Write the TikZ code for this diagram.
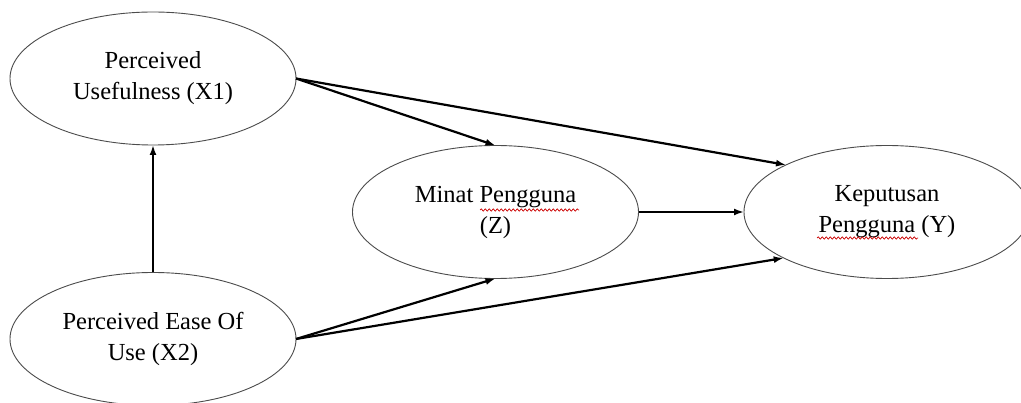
\documentclass[tikz,border=0pt]{standalone}
\usepackage{fontspec}
\setmainfont{Liberation Serif}
\usetikzlibrary{shapes.geometric, arrows.meta, decorations.pathmorphing}
\tikzstyle{var} = [ellipse, draw = black!70, line width = 0.9pt, inner sep = 0pt, outer sep = 0pt, minimum width = 286pt, minimum height = 133pt, align = center, font = \fontsize{24.5}{31}\selectfont]
\tikzstyle{path} = [-{Latex[length = 10pt, width = 7pt]}, line width = 2.2pt]
\tikzstyle{typo} = [red!80!black, line width = 0.7pt, decorate, decoration = {snake, amplitude = 1.2pt, segment length = 4pt}]

\begin{document}
\begin{tikzpicture}[x = 1pt, y = -1pt]
        \useasboundingbox (0, 0) rectangle (1021, 403);
        \fill [white] (0, 0) rectangle (1021, 403);

        \node (X1) at (153, 78.5) [var] {Perceived\\Usefulness (X1)};
        \node (X2) at (153, 339) [var] {Perceived Ease Of\\Use (X2)};
        \node (Z) at (495.5, 212) [var] {Minat Pengguna\\(Z)};
        \node (Y) at (887, 212) [var] {Keputusan\\Pengguna (Y)};

        \draw [path] (X2.north) -- (X1.south);
        \draw [path] (X1.east) -- (Z.north);
        \draw [path] (X1.east) -- (Y.155);
        \draw [path] (X2.east) -- (Z.south);
        \draw [path] (X2.east) -- (Y.204);
        \draw [path] (Z.east) -- (Y.west);

        % spell-check marks under Pengguna
        \draw [typo] (480, 210) -- (579, 210);
        \draw [typo] (817, 238) -- (918, 238);
    \end{tikzpicture}
\end{document}
